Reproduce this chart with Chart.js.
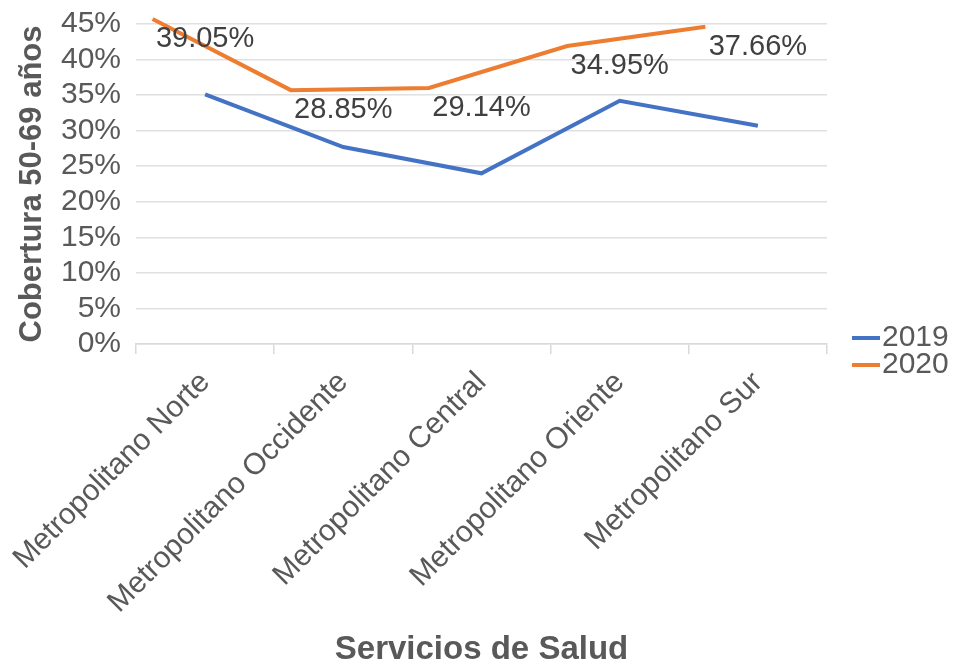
<!DOCTYPE html>
<html>
<head>
<meta charset="utf-8">
<script src="https://cdn.jsdelivr.net/npm/chart.js@4.4.1/dist/chart.umd.min.js"></script>
<style>
  html, body { margin: 0; padding: 0; background: #fff; }
  #wrap { width: 956px; height: 666px; }
</style>
</head>
<body>
<div id="wrap"><canvas id="grafico"></canvas></div>
<script>
// datos
const servicios = ['Metropolitano Norte', 'Metropolitano Occidente', 'Metropolitano Central', 'Metropolitano Oriente', 'Metropolitano Sur'];
const cob2019 = [35.1, 27.7, 24.0, 34.2, 30.7];
const cob2020 = [45.7, 35.7, 36.0, 41.9, 44.6];
const etiquetas2020 = ['39.05%', '28.85%', '29.14%', '34.95%', '37.66%'];
const ticksY = [0, 5, 10, 15, 20, 25, 30, 35, 40, 45];

const azul = '#4472C4';
const naranja = '#ED7D31';
const gris = '#595959';

// la serie 2020 esta corrida a la izquierda en el original
const corrimiento2020 = 0.38;

Chart.defaults.font.family = "'Liberation Sans', Arial, sans-serif";
Chart.defaults.color = gris;

// etiquetas de datos de 2020 (centradas en cada categoria)
const etiquetasPlugin = {
  id: 'etiquetas',
  afterDatasetsDraw(chart) {
    const ctx = chart.ctx;
    const x = chart.scales.x, y = chart.scales.y;
    ctx.save();
    ctx.font = "29px 'Liberation Sans', Arial, sans-serif";
    ctx.fillStyle = '#404040';
    ctx.textAlign = 'center';
    ctx.textBaseline = 'middle';
    etiquetas2020.forEach((t, i) => {
      ctx.fillText(t, x.getPixelForValue(i), y.getPixelForValue(cob2020[i]) + 20);
    });
    ctx.restore();
  }
};

// leyenda a la derecha
const leyendaPlugin = {
  id: 'leyenda',
  afterDraw(chart) {
    const ctx = chart.ctx;
    const area = chart.chartArea;
    ctx.save();
    ctx.font = "30px 'Liberation Sans', Arial, sans-serif";
    ctx.textBaseline = 'middle';
    chart.data.datasets.forEach((ds, i) => {
      const yy = area.bottom - 6 + i * 27;
      ctx.strokeStyle = ds.borderColor;
      ctx.lineWidth = 4;
      ctx.beginPath();
      ctx.moveTo(area.right + 25, yy);
      ctx.lineTo(area.right + 53, yy);
      ctx.stroke();
      ctx.fillStyle = gris;
      ctx.fillText(ds.label, area.right + 55, yy);
    });
    ctx.restore();
  }
};

new Chart(document.getElementById('grafico'), {
  type: 'line',
  data: {
    labels: servicios,
    datasets: [
      {
        label: '2019',
        data: cob2019,
        borderColor: azul,
        backgroundColor: azul,
        borderWidth: 4,
        pointRadius: 0,
        tension: 0,
        xAxisID: 'x'
      },
      {
        label: '2020',
        data: cob2020.map((v, i) => ({ x: i, y: v })),
        borderColor: naranja,
        backgroundColor: naranja,
        borderWidth: 4,
        pointRadius: 0,
        tension: 0,
        clip: false,
        xAxisID: 'x2'
      }
    ]
  },
  options: {
    responsive: true,
    maintainAspectRatio: false,
    animation: false,
    layout: { padding: { left: 0, right: 129, top: 24, bottom: 0 } },
    plugins: {
      legend: { display: false },
      tooltip: { enabled: false }
    },
    scales: {
      x: {
        type: 'category',
        offset: true,
        grid: { drawOnChartArea: false, offset: true, tickLength: 10, color: '#d9d9d9', lineWidth: 1.5 },
        border: { color: '#d9d9d9', width: 1.5 },
        ticks: { font: { size: 30 }, color: gris, minRotation: 45, maxRotation: 45, padding: 11, autoSkip: false },
        title: {
          display: true,
          text: 'Servicios de Salud',
          font: { size: 33, weight: 'bold', lineHeight: 1 },
          color: gris,
          padding: { top: 0, bottom: 0 }
        },
        afterFit(scale) {
          scale.height = 322;
          scale.paddingLeft = 0;
          scale.paddingRight = 0;
        }
      },
      x2: {
        type: 'linear',
        display: false,
        min: -0.5 + corrimiento2020,
        max: 4.5 + corrimiento2020
      },
      y: {
        min: 0,
        max: 45,
        afterBuildTicks(scale) { scale.ticks = ticksY.map(v => ({ value: v })); },
        grid: { drawTicks: false, color: '#e0e0e0', lineWidth: 1.5 },
        border: { display: false },
        ticks: { font: { size: 30 }, color: gris, padding: 15, autoSkip: false, callback: v => v + '%' },
        title: {
          display: true,
          text: 'Cobertura 50-69 años',
          font: { size: 31, weight: 'bold' },
          color: gris,
          padding: { top: 14, bottom: 0 }
        },
        afterFit(scale) {
          scale.width = 136;
          scale.paddingTop = 0;
          scale.paddingBottom = 0;
        }
      }
    }
  },
  plugins: [etiquetasPlugin, leyendaPlugin]
});
</script>
</body>
</html>
